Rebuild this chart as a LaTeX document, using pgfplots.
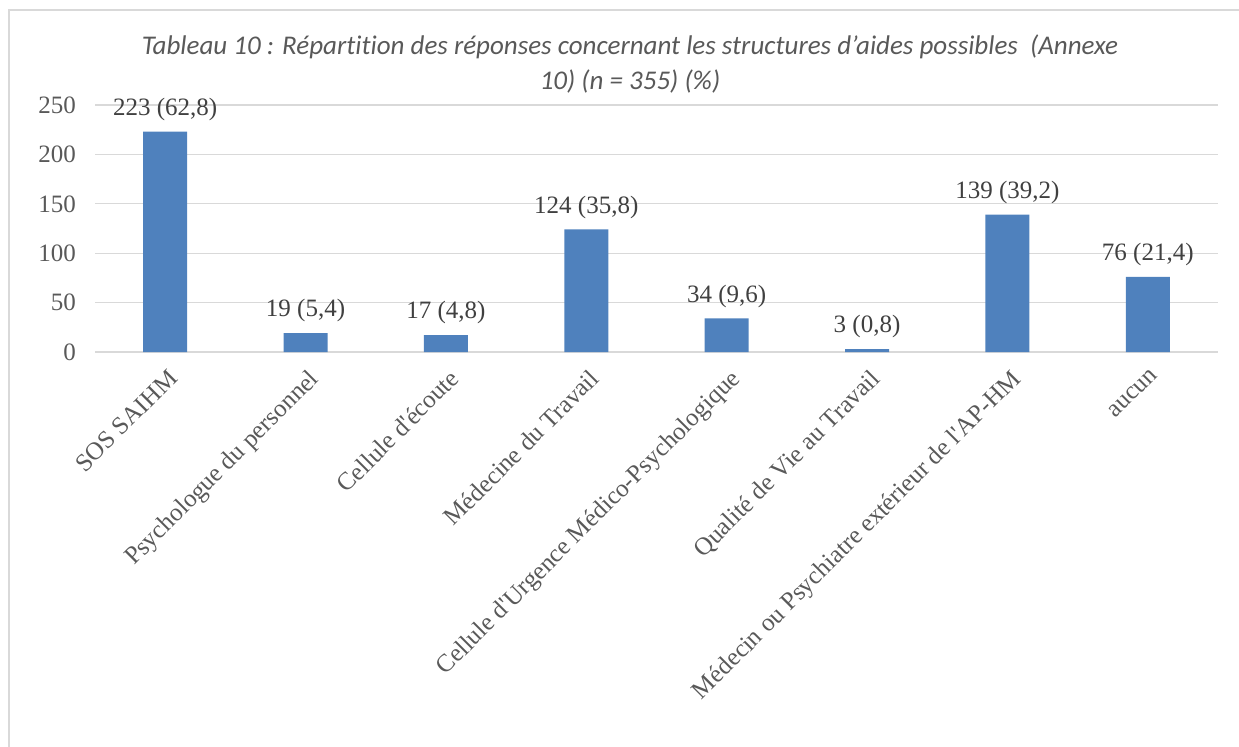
\documentclass[border=0pt]{standalone}
\usepackage{fontspec}
\setmainfont{Liberation Serif}
\newfontfamily\titlefont{Carlito}[Ligatures={NoCommon}]
\usepackage{pgfplots}
\usepackage{pgfplotstable}
\pgfplotsset{compat=1.18}
\definecolor{barblue}{HTML}{4F81BD}
\definecolor{gridgray}{HTML}{D9D9D9}
\definecolor{txtgray}{HTML}{595959}
\definecolor{lblgray}{HTML}{404040}
\pgfplotstableread[col sep=semicolon]{
x;y;lab
0;223;223 (62,8)
1;19;19 (5,4)
2;17;17 (4,8)
3;124;124 (35,8)
4;34;34 (9,6)
5;3;3 (0,8)
6;139;139 (39,2)
7;76;76 (21,4)
}\datatable
\begin{document}
\begin{tikzpicture}[x=1pt,y=1pt]
\useasboundingbox (0,0) rectangle (619.5,373);
\draw[gridgray, line width=0.75pt] (4.5,-10) -- (4.5,368) -- (640,368);
\node[font=\titlefont\itshape\fontsize{13.5}{17.5}\selectfont, text=txtgray, align=center] at (315,341) {Tableau 10 : Répartition des réponses concernant les structures d’aides possibles~~(Annexe\\10) (n = 355) (\%)};
\begin{axis}[
  at={(47.5pt,197pt)}, anchor=south west,
  scale only axis, width=561.5pt, height=123.5pt,
  ymin=0, ymax=250, ytick={0,50,...,250},
  xmin=-0.5, xmax=7.5, xtick={0,...,7},
  xticklabels={SOS SAIHM, Psychologue du personnel, Cellule d\textquotesingle écoute, Médecine du Travail, Cellule d\textquotesingle Urgence Médico-Psychologique, Qualité de Vie au Travail, Médecin ou Psychiatre extérieur de l\textquotesingle AP-HM, aucun},
  axis lines*=left,
  y axis line style={draw=none},
  x axis line style={gridgray, line width=0.8pt, -},
  ymajorgrids, grid style={gridgray, line width=0.6pt},
  major tick length=0pt, tick style={draw=none},
  /pgf/number format/assume math mode=true,
  yticklabel style={font=\fontsize{12.5}{15}\selectfont, text=txtgray, xshift=-6pt},
  xticklabel style={font=\fontsize{12.5}{15}\selectfont, text=txtgray, xshift=1pt, yshift=-3pt, rotate=45, anchor=north east},
  ybar, bar width=22pt,
  clip=false,
  nodes near coords, point meta=explicit symbolic,
  nodes near coords style={font=\fontsize{12.5}{15}\selectfont, text=lblgray, anchor=south, yshift=2pt},
]
\addplot[fill=barblue, draw=none] table[x=x, y=y, meta=lab] {\datatable};
\end{axis}
\end{tikzpicture}
\end{document}
